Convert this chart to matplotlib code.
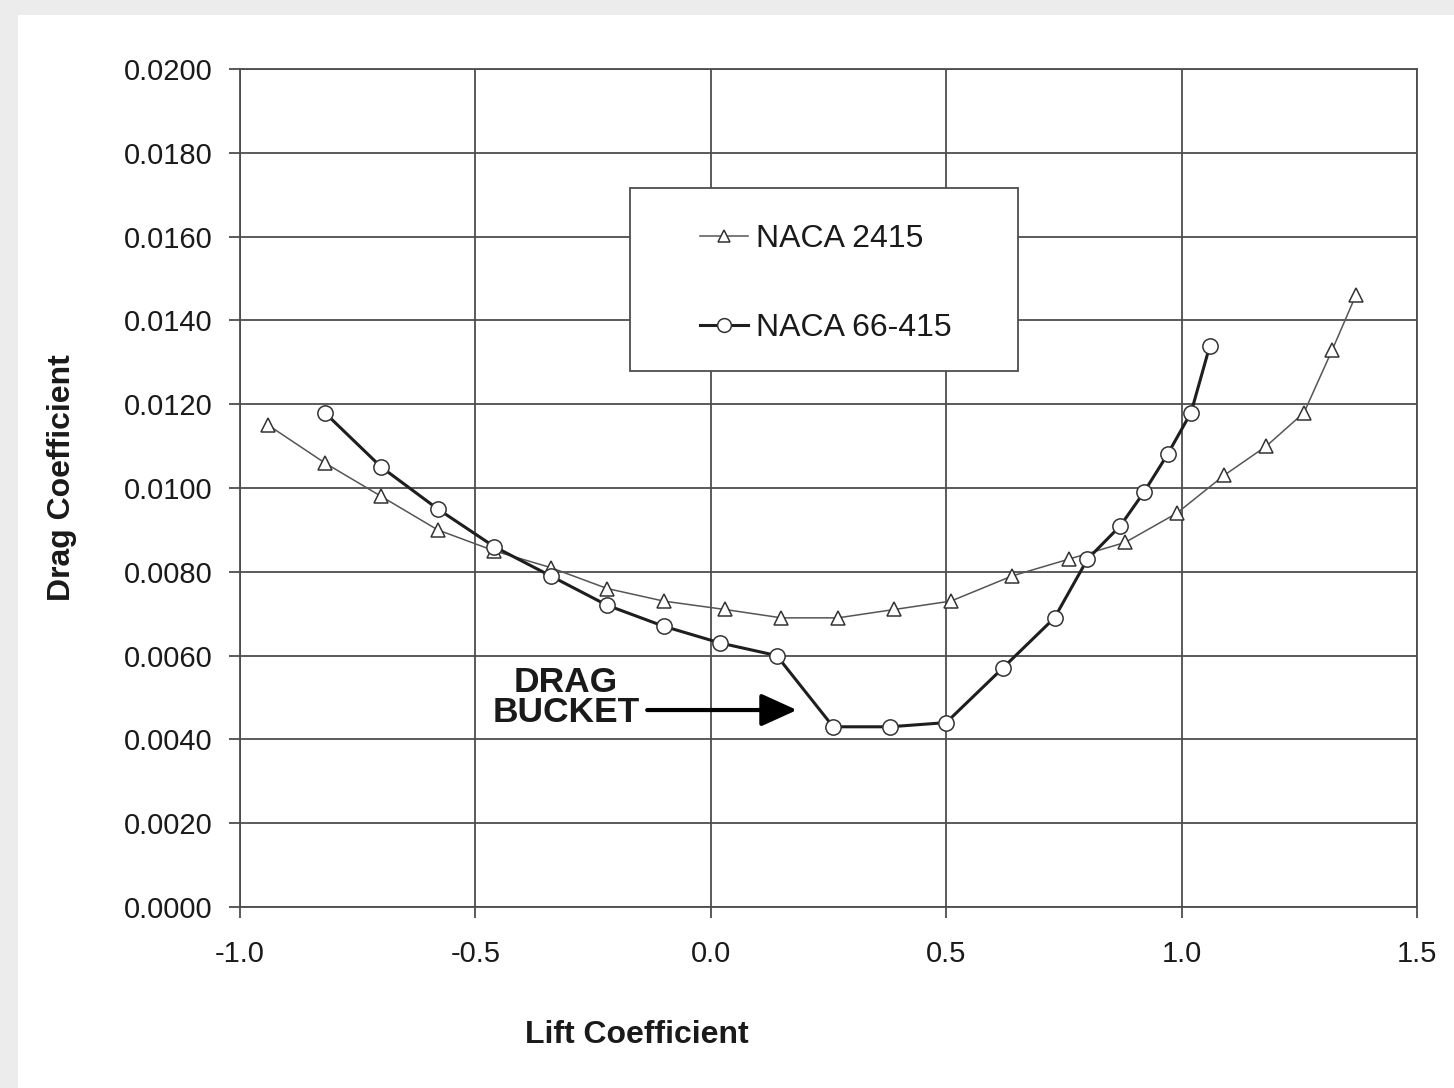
import matplotlib
matplotlib.use("Agg")
import matplotlib.pyplot as plt
from matplotlib.patches import Rectangle

plt.rcParams['font.family'] = ['Liberation Sans', 'DejaVu Sans']
plt.rcParams['axes.unicode_minus'] = False

# datos
cl_2415 = [-0.94, -0.82, -0.70, -0.58, -0.46, -0.34, -0.22, -0.10, 0.03, 0.15, 0.27,
           0.39, 0.51, 0.64, 0.76, 0.88, 0.99, 1.09, 1.18, 1.26, 1.32, 1.37]
cd_2415 = [0.0115, 0.0106, 0.0098, 0.0090, 0.0085, 0.0081, 0.0076, 0.0073, 0.0071, 0.0069, 0.0069,
           0.0071, 0.0073, 0.0079, 0.0083, 0.0087, 0.0094, 0.0103, 0.0110, 0.0118, 0.0133, 0.0146]

cl_66415 = [-0.82, -0.70, -0.58, -0.46, -0.34, -0.22, -0.10, 0.02, 0.14, 0.26,
            0.38, 0.50, 0.62, 0.73, 0.80, 0.87, 0.92, 0.97, 1.02, 1.06]
cd_66415 = [0.0118, 0.0105, 0.0095, 0.0086, 0.0079, 0.0072, 0.0067, 0.0063, 0.0060, 0.0043,
            0.0043, 0.0044, 0.0057, 0.0069, 0.0083, 0.0091, 0.0099, 0.0108, 0.0118, 0.0134]

x_ticks = [-1.0, -0.5, 0.0, 0.5, 1.0, 1.5]
x_labels = ['-1.0', '-0.5', '0.0', '0.5', '1.0', '1.5']
y_ticks = [0.0, 0.002, 0.004, 0.006, 0.008, 0.010, 0.012, 0.014, 0.016, 0.018, 0.020]
y_labels = ['%.4f' % v for v in y_ticks]

grid_col = '#4d4d4d'
txt_col = '#1a1a1a'

fig = plt.figure(figsize=(14.54, 10.88), dpi=100, facecolor='#ececec')
# panel blanco detras de todo
fig.patches.append(Rectangle((0.0124, 0.0), 0.99, 0.986, transform=fig.transFigure,
                             facecolor='white', edgecolor='none', zorder=-10))

ax = fig.add_axes([0.165, 0.1664, 0.8096, 0.7702])
ax.set_facecolor('white')

ax.plot(cl_2415, cd_2415, color='#555555', lw=1.1, marker='^', ms=10,
        mfc='white', mec='#333333', mew=1.1, label='NACA 2415', zorder=3)
ax.plot(cl_66415, cd_66415, color='#1e1e1e', lw=2.2, marker='o', ms=11,
        mfc='white', mec='#333333', mew=1.1, label='NACA 66-415', zorder=4)

ax.set_xlim(-1.0, 1.5)
ax.set_ylim(0.0, 0.020)
ax.set_xticks(x_ticks)
ax.set_xticklabels(x_labels)
ax.set_yticks(y_ticks)
ax.set_yticklabels(y_labels)
ax.tick_params(axis='both', labelsize=21, colors=grid_col, labelcolor=txt_col,
               length=8, width=1.3, direction='out')
ax.tick_params(axis='x', pad=16)
ax.tick_params(axis='y', pad=12)

ax.grid(True, color=grid_col, lw=1.3)
ax.set_axisbelow(True)
for s in ax.spines.values():
    s.set_color(grid_col)
    s.set_linewidth(1.3)

ax.set_xlabel('Lift Coefficient', fontsize=23, fontweight='bold', color=txt_col, va='center')
ax.xaxis.set_label_coords(0.337, -0.153)
ax.set_ylabel('Drag Coefficient', fontsize=23, fontweight='bold', color=txt_col, va='center')
ax.yaxis.set_label_coords(-0.151, 0.512)

# caja de la leyenda
ax.add_patch(Rectangle((0.331, 0.640), 0.330, 0.218, transform=ax.transAxes,
                       facecolor='white', edgecolor=grid_col, lw=1.3, zorder=5))
leg = ax.legend(loc='center', bbox_to_anchor=(0.498, 0.744), frameon=False,
                fontsize=23, handlelength=1.5, handletextpad=0.25, labelspacing=1.85,
                borderpad=0.0, markerscale=0.9)
leg.set_zorder(6)
for t in leg.get_texts():
    t.set_color(txt_col)

# anotacion del "drag bucket"
ax.text(-0.3075, 0.0050, 'DRAG\nBUCKET', ha='center', va='center', fontsize=25.5,
        fontweight='bold', color=txt_col, linespacing=0.88, zorder=6)
ax.annotate('', xy=(0.183, 0.0047), xytext=(-0.135, 0.0047),
            arrowprops=dict(arrowstyle='-|>,head_length=0.55,head_width=0.25',
                            lw=3, color='black', mutation_scale=40,
                            shrinkA=0, shrinkB=0), zorder=6)

fig.savefig('out.png', dpi=100, facecolor=fig.get_facecolor())
